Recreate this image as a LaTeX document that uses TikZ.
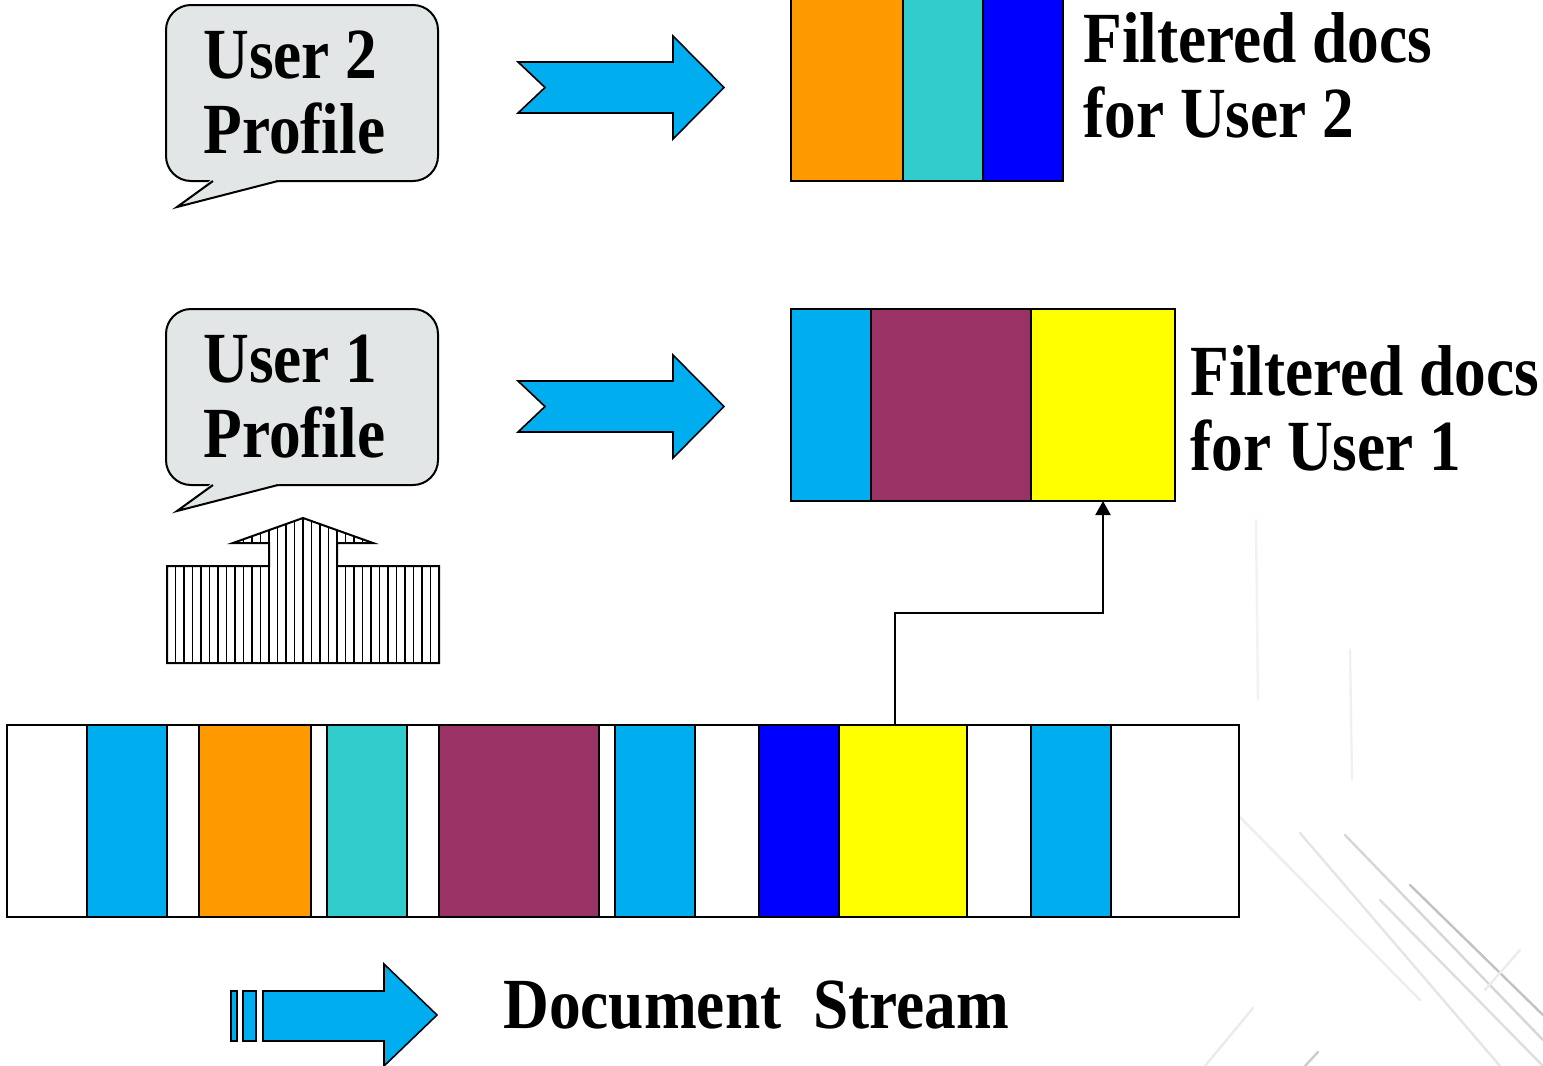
\documentclass[tikz,border=0pt]{standalone}
\usepackage{fontspec}
\newfontfamily\lab{Liberation Serif}[FakeStretch=0.88]
\usetikzlibrary{arrows.meta}
\definecolor{cblue}{HTML}{00ADEF}
\definecolor{corange}{HTML}{FF9900}
\definecolor{cteal}{HTML}{33CCCC}
\definecolor{cdblue}{HTML}{0000FF}
\definecolor{cmaroon}{HTML}{993366}
\definecolor{cyellow}{HTML}{FFFF00}
\definecolor{cbubble}{HTML}{E3E6E6}
\begin{document}
\begin{tikzpicture}[x=0.5pt,y=-0.5pt,
  lbl/.style={font=\lab\bfseries\fontsize{36}{37.5}\selectfont, inner sep=0, anchor=base west},
  seg/.style={draw, line width=1pt, fill=#1, inner sep=0, outer sep=0, minimum height=96pt, anchor=north west},
  bubble/.style={draw, line width=1pt, fill=cbubble, rounded corners=12.5pt, inner sep=0, outer sep=0, minimum width=136pt, minimum height=88pt, anchor=north west},
  bigarrow/.style={draw, line width=0.8pt, fill=cblue, line join=miter},
  bgline/.style={line width=1.2pt, line cap=round},
]
\useasboundingbox (0,0) rectangle (1543,1066);
% faint background lines
\draw[bgline, black!5] (1256,520) -- (1258,700);
\draw[bgline, black!6] (1350,650) -- (1352,780);
\draw[bgline, black!7] (1233,810) -- (1420,1000);
\draw[bgline, black!10] (1300,833) -- (1500,1066);
\draw[bgline, black!16] (1345,835) -- (1543,1040);
\draw[bgline, black!24] (1410,885) -- (1543,1015);
\draw[bgline, black!13] (1380,900) -- (1543,1066);
\draw[bgline, black!8] (1253,1008) -- (1205,1066);
\draw[bgline, black!20] (1318,1052) -- (1305,1066);
\draw[bgline, black!8] (1520,950) -- (1485,990);

% User 2 bubble
\node[bubble] (b2) at (166,5) {};
\fill[cbubble] (211,179.8) -- (177,207) -- (280,179.8) -- cycle;
\draw[line width=1pt, line join=miter] (213,181) -- (177,207) -- (278,181);
\node[lbl] (t2a) at (203,78) {User 2};
\node[lbl] (t2b) at (203,153) {Profile};

% User 1 bubble
\node[bubble] (b1) at (166,309) {};
\fill[cbubble] (211,483.8) -- (177,511) -- (280,483.8) -- cycle;
\draw[line width=1pt, line join=miter] (213,485) -- (177,511) -- (278,485);
\node[lbl] (t1a) at (203,382) {User 1};
\node[lbl] (t1b) at (203,457) {Profile};

% blue arrows
\path[bigarrow] (518,62) -- (673,62) -- (673,36) -- (724,87.5) -- (673,139) -- (673,113) -- (518,113) -- (545,87.5) -- cycle;
\path[bigarrow] (518,381) -- (673,381) -- (673,355) -- (724,406.5) -- (673,458) -- (673,432) -- (518,432) -- (545,406.5) -- cycle;

% filtered docs for user 2
\node[seg=corange, minimum width=56pt] (f2o) at (791,-11) {};
\node[seg=cteal, minimum width=40pt] (f2t) at (903,-11) {};
\node[seg=cdblue, minimum width=40pt] (f2b) at (983,-11) {};
\node[lbl] (l2a) at (1083,62) {Filtered docs};
\node[lbl] (l2b) at (1083,137) {for User 2};

% filtered docs for user 1
\node[seg=cblue, minimum width=40pt] (f1b) at (791,309) {};
\node[seg=cmaroon, minimum width=80pt] (f1m) at (871,309) {};
\node[seg=cyellow, minimum width=72pt] (f1y) at (1031,309) {};
\node[lbl] (l1a) at (1190,395) {Filtered docs};
\node[lbl] (l1b) at (1190,470) {for User 1};

% hatched arrow
\begin{scope}
\path[clip] (167,566) -- (269,566) -- (269,543) -- (233,543) -- (303,518) -- (373,543) -- (337,543) -- (337,566) -- (439,566) -- (439,663) -- (167,663) -- cycle;
\fill[white] (160,510) rectangle (445,670);
\foreach \i in {0,...,32} \draw[line width=0.9pt] ({167+8.5*\i},510) -- ({167+8.5*\i},670);
\end{scope}
\draw[line width=1pt, line join=miter] (167,566) -- (269,566) -- (269,543) -- (233,543) -- (303,518) -- (373,543) -- (337,543) -- (337,566) -- (439,566) -- (439,663) -- (167,663) -- cycle;

% document stream
\node[seg=white, minimum width=616pt] (stream) at (7,725) {};
\node[seg=cblue, minimum width=40pt] (s1) at (87,725) {};
\node[seg=corange, minimum width=56pt] (s2) at (199,725) {};
\node[seg=cteal, minimum width=40pt] (s3) at (327,725) {};
\node[seg=cmaroon, minimum width=80pt] (s4) at (439,725) {};
\node[seg=cblue, minimum width=40pt] (s5) at (615,725) {};
\node[seg=cdblue, minimum width=40pt] (s6) at (759,725) {};
\node[seg=cyellow, minimum width=64pt] (s7) at (839,725) {};
\node[seg=cblue, minimum width=40pt] (s8) at (1031,725) {};

% connector
\draw[line width=1pt, -{Triangle[length=7pt,width=7.5pt]}] ([xshift=-4pt]s7.north) -- ++(0,-112) -| (f1y.south);

% stream arrow
\path[bigarrow] (231,991) rectangle (237,1041);
\path[bigarrow] (243,991) rectangle (256,1041);
\path[bigarrow] (263,991) -- (384,991) -- (384,964) -- (437,1015) -- (384,1066) -- (384,1041) -- (263,1041) -- cycle;
\node[lbl] (ds) at (503,1028) {Document~~Stream};
\end{tikzpicture}
\end{document}
